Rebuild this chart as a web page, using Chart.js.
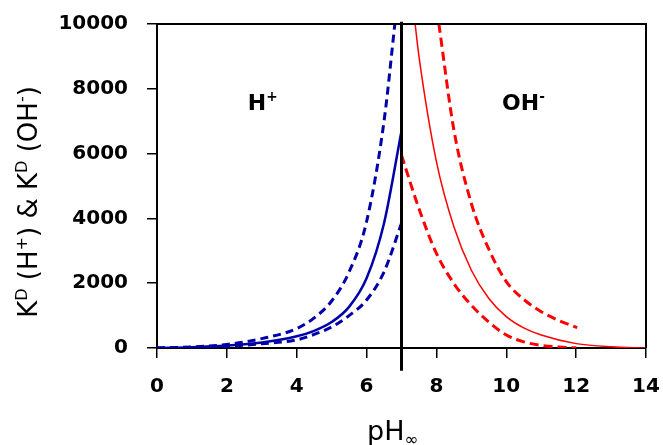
<!DOCTYPE html>
<html>
<head>
<meta charset="utf-8">
<script src="https://cdn.jsdelivr.net/npm/chart.js@4"></script>
<style>
  body { margin: 0; background: #fff; }
  canvas { display: block; }
</style>
</head>
<body>
<canvas id="myChart" width="663" height="445"></canvas>
<script>
// wartosci (pH vs K^D)
const phHmid = [0, 1, 2, 3, 4, 4.5, 5, 5.5, 6, 6.5, 7];
const kHmid = [0, 25, 75, 170, 360, 530, 800, 1270, 2150, 3850, 6700];

const phHup = [0, 1, 2, 3, 4, 4.5, 5, 5.5, 6, 6.5, 6.81];
const kHup = [0, 35, 110, 290, 600, 930, 1450, 2350, 3900, 7000, 10000];

const phHlow = [0, 1, 2, 3, 4, 4.5, 5, 5.5, 6, 6.5, 7];
const kHlow = [0, 15, 50, 130, 250, 420, 650, 1000, 1480, 2350, 3850];

const phOHmid = [7.39, 7.5, 8, 8.5, 9, 9.5, 10, 10.5, 11, 12, 13, 14];
const kOHmid = [10000, 9000, 5750, 3740, 2400, 1530, 970, 620, 400, 135, 35, 0];

const phOHup = [8.07, 8.5, 9, 9.5, 10, 10.5, 11, 11.5, 12.03];
const kOHup = [10000, 6730, 4460, 3050, 2050, 1500, 1120, 850, 630];

const phOHlow = [7, 7.5, 8, 8.5, 9, 9.5, 10, 10.5, 11, 11.5, 12];
const kOHlow = [5950, 4300, 2920, 1990, 1320, 800, 400, 190, 80, 30, 5];

// pionowa linia pH = 7
const phNeutral = [7, 7];
const kNeutral = [-700, 10070];

const xTicks = [0, 2, 4, 6, 8, 10, 12, 14];
const yTicks = [0, 2000, 4000, 6000, 8000, 10000];

const blue = '#0000a8';
const red = '#ff0000';

function pts(xs, ys) {
    return xs.map((x, i) => ({ x: x, y: ys[i] }));
}

function line(xs, ys, color, width, dash) {
    return {
        data: pts(xs, ys),
        showLine: true,
        borderColor: color,
        borderWidth: width,
        borderDash: dash || [],
        pointRadius: 0,
        cubicInterpolationMode: 'monotone',
        fill: false
    };
}

// rysuje tekst z indeksami gornymi / dolnymi
function richText(ctx, parts, x, y, size, weight, align) {
    const fam = '"DejaVu Sans", sans-serif';
    let widths = parts.map(p => {
        const s = p[1] ? size * 0.62 : size;
        ctx.font = weight + ' ' + s + 'px ' + fam;
        return ctx.measureText(p[0]).width;
    });
    let total = widths.reduce((a, b) => a + b, 0);
    let cx = align === 'center' ? x - total / 2 : x;
    parts.forEach((p, i) => {
        const s = p[1] ? size * 0.62 : size;
        ctx.font = weight + ' ' + s + 'px ' + fam;
        let dy = 0;
        if (p[1] === 'sup') dy = -size * 0.4;
        if (p[1] === 'sub') dy = size * 0.2;
        ctx.fillText(p[0], cx, y + dy);
        cx += widths[i];
    });
}

const framePlugin = {
    id: 'frame',
    afterDraw(chart) {
        const a = chart.chartArea;
        const ctx = chart.ctx;
        ctx.save();
        ctx.strokeStyle = '#000';
        ctx.lineWidth = 2;
        ctx.beginPath();
        ctx.moveTo(a.left, a.top);
        ctx.lineTo(a.right, a.top);
        ctx.lineTo(a.right, a.bottom);
        ctx.stroke();
        ctx.restore();
    }
};

const textPlugin = {
    id: 'texty',
    afterDraw(chart) {
        const ctx = chart.ctx;
        const xs = chart.scales.x, ys = chart.scales.y;
        ctx.save();
        ctx.fillStyle = '#000';
        ctx.textBaseline = 'alphabetic';
        ctx.textAlign = 'left';

        // napisy w srodku wykresu
        richText(ctx, [['H'], ['+', 'sup']], xs.getPixelForValue(2.6), ys.getPixelForValue(7350), 22, 'bold', 'left');
        richText(ctx, [['OH'], ['-', 'sup']], xs.getPixelForValue(9.88), ys.getPixelForValue(7350), 22, 'bold', 'left');

        // tytul osi x
        richText(ctx, [['pH'], ['\u221e', 'sub']], 367, 440, 27, 'normal', 'left');

        // tytul osi y (obrocony)
        ctx.translate(37, 202);
        ctx.rotate(-Math.PI / 2);
        richText(ctx, [['K'], ['D', 'sup'], [' (H'], ['+', 'sup'], [') & K'], ['D', 'sup'], [' (OH'], ['-', 'sup'], [')']], 0, 0, 26, 'normal', 'center');
        ctx.restore();
    }
};

const tickFont = { family: '"DejaVu Sans", sans-serif', weight: 'bold', size: 20 };

var ctx = document.getElementById('myChart').getContext('2d');
const myChart = new Chart(ctx, {
    type: 'scatter',
    data: {
        datasets: [
            Object.assign(line(phNeutral, kNeutral, '#000', 3), { clip: false, cubicInterpolationMode: 'default' }),
            line(phHup, kHup, blue, 3, [8, 5]),
            line(phHmid, kHmid, blue, 2.5),
            line(phHlow, kHlow, blue, 3, [8, 5]),
            line(phOHup, kOHup, red, 3, [9, 5]),
            line(phOHmid, kOHmid, red, 1.5),
            line(phOHlow, kOHlow, red, 3, [9, 5])
        ]
    },
    options: {
        responsive: false,
        animation: false,
        layout: { padding: { top: 24, right: 17, left: 0, bottom: 0 } },
        plugins: {
            legend: { display: false },
            tooltip: { enabled: false }
        },
        scales: {
            x: {
                type: 'linear',
                min: 0,
                max: 14,
                afterBuildTicks: s => { s.ticks = xTicks.map(v => ({ value: v })); },
                ticks: { color: '#000', font: tickFont, padding: 17, maxRotation: 0, callback: v => String(v) },
                grid: { drawOnChartArea: false, drawTicks: true, tickLength: 10, color: '#000', lineWidth: 1.5 },
                border: { color: '#000', width: 2 },
                afterFit: s => { s.height = 97; s.paddingLeft = 0; s.paddingRight = 0; }
            },
            y: {
                min: 0,
                max: 10000,
                afterBuildTicks: s => { s.ticks = yTicks.map(v => ({ value: v })); },
                ticks: { color: '#000', font: tickFont, padding: 19, callback: v => String(v) },
                grid: { drawOnChartArea: false, drawTicks: true, tickLength: 10, color: '#000', lineWidth: 1.5 },
                border: { color: '#000', width: 2 },
                afterFit: s => { s.width = 157; s.paddingTop = 0; s.paddingBottom = 0; }
            }
        }
    },
    plugins: [framePlugin, textPlugin]
});
</script>
</body>
</html>
